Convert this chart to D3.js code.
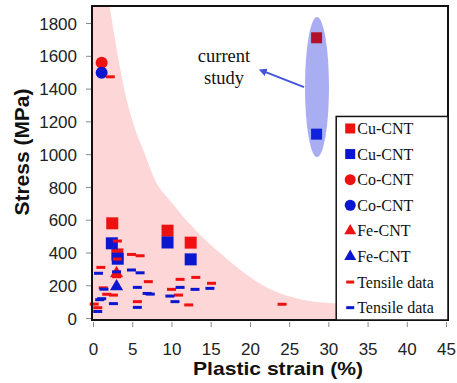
<!DOCTYPE html>
<html>
<head>
<meta charset="utf-8">
<script src="https://cdn.jsdelivr.net/npm/d3@7"></script>
<style>
body { margin:0; background:#fff; }
.tick text { font-family:"Liberation Sans", Arial, sans-serif; font-size:17px; fill:#222; }
.tick line { stroke:#888; }
.legend text { font-family:"Liberation Serif", "Times New Roman", serif; font-size:16px; fill:#111; }
</style>
</head>
<body>
<div id="chart"></div>
<script>
// values: [strain %, stress MPa]
var cuRed = [[2.45,578],[3.1,388],[9.5,533],[12.45,460]];
var cuBlue = [[2.4,456],[3.15,362],[9.5,461],[12.45,358]];
var studyRed = [[28.5,1710]];
var studyBlue = [[28.5,1122]];
var coRed = [[1.1,1558]];
var coBlue = [[1.1,1497]];
var feRed = [[3.0,272]];
var feBlue = [[3.0,192]];
var tensileRed = [[2.2,1472],[0.15,85],[0.6,63],[1.0,309],[1.3,184],[1.75,145],[2.6,140],[3.1,470],[3.1,360],
    [3.0,252],[4.9,388],[6.0,380],[7.05,222],[5.65,100],[10.0,175],[11.1,236],[10.9,140],[12.2,80],
    [13.1,248],[15.1,212],[24.1,84]];
var tensileBlue = [[0.6,40],[0.85,112],[0.7,273],[1.4,176],[1.1,118],[2.6,88],[3.0,282],[4.9,293],[6.0,276],
    [5.65,187],[6.9,150],[5.65,65],[7.3,146],[11.1,187],[9.8,134],[10.45,100],[13.0,175],[14.9,181]];

// boundary of the shaded band
var envStrain = [2.1, 4.3, 5.4, 6.4, 7.9, 10.1, 13.4, 16.2, 18.8, 22.6, 26.4, 30.2, 33];
var envStress = [1904, 1330, 1147, 1025, 842, 700, 519, 397, 293, 175, 115, 92, 85];

var xTicks = [0,5,10,15,20,25,30,35,40,45];
var yTicks = [0,200,400,600,800,1000,1200,1400,1600,1800];

var legendItems = [
    {name:"Cu-CNT", shape:"square", color:"#ee1111"},
    {name:"Cu-CNT", shape:"square", color:"#0b16d0"},
    {name:"Co-CNT", shape:"circle", color:"#ee1111"},
    {name:"Co-CNT", shape:"circle", color:"#0b16d0"},
    {name:"Fe-CNT", shape:"triangle", color:"#ee1111"},
    {name:"Fe-CNT", shape:"triangle", color:"#0b16d0"},
    {name:"Tensile data", shape:"dash", color:"#ee1111"},
    {name:"Tensile data", shape:"dash", color:"#0b16d0"}
];

var red = "#ee1111", blue = "#0b16d0";

var margin = {top:6, right:9, bottom:63, left:92};
var w = 457 - margin.left - margin.right;
var h = 383 - margin.top - margin.bottom;

var svg = d3.select("#chart").append("svg")
    .attr("width", 457)
    .attr("height", 383)
    .append("g")
    .attr("transform", "translate(" + margin.left + "," + margin.top + ")");

var x = d3.scaleLinear().domain([-0.13, 45.25]).range([0, w]);
var y = d3.scaleLinear().domain([-12, 1904]).range([h, 0]);

svg.append("defs").append("clipPath").attr("id", "clip")
    .append("rect").attr("width", w).attr("height", h);

// pink band
var edge = d3.line().x(function(d){ return x(d[0]); }).y(function(d){ return y(d[1]); })
    .curve(d3.curveMonotoneX);
var curvePts = envStrain.map(function(s, i){ return [s, envStress[i]]; });
var dBand = "M" + x(x.domain()[0]) + "," + y(y.domain()[1]) +
    "L" + edge(curvePts).slice(1) +
    "L" + x(envStrain[envStrain.length-1]) + "," + y(y.domain()[0]) +
    "L" + x(x.domain()[0]) + "," + y(y.domain()[0]) + "Z";
svg.append("path")
    .attr("clip-path", "url(#clip)")
    .attr("d", dBand)
    .style("fill", "#fdd7d7");

// ellipse round current study
svg.append("ellipse")
    .attr("cx", x(28.55))
    .attr("cy", y(1409))
    .attr("rx", 12)
    .attr("ry", 70)
    .style("fill", "#a9aef2");

// arrow
svg.append("defs").append("marker")
    .attr("id", "head")
    .attr("viewBox", "0 0 10 10")
    .attr("refX", 5).attr("refY", 5)
    .attr("markerWidth", 4).attr("markerHeight", 4)
    .attr("orient", "auto")
    .append("path").attr("d", "M0,0L10,5L0,10Z").style("fill", "#4455dd");

svg.append("line")
    .attr("x1", x(26.9)).attr("y1", y(1409))
    .attr("x2", x(21.6)).attr("y2", y(1508))
    .style("stroke", "#4455dd")
    .style("stroke-width", 2)
    .attr("marker-end", "url(#head)");

var label = svg.append("text")
    .attr("x", x(16.7))
    .attr("y", y(1560))
    .style("font-family", "'Liberation Serif', 'Times New Roman', serif")
    .style("font-size", "18.5px")
    .style("text-anchor", "middle")
    .style("fill", "#111");
label.append("tspan").attr("x", x(16.7)).text("current");
label.append("tspan").attr("x", x(16.7)).attr("dy", 22).text("study");

// markers
function drawSquares(data, color, size) {
    svg.selectAll(null).data(data).enter().append("rect")
        .attr("x", function(d){ return x(d[0]) - size/2; })
        .attr("y", function(d){ return y(d[1]) - size/2; })
        .attr("width", size).attr("height", size)
        .style("fill", color);
}
function drawCircles(data, color) {
    svg.selectAll(null).data(data).enter().append("circle")
        .attr("cx", function(d){ return x(d[0]); })
        .attr("cy", function(d){ return y(d[1]); })
        .attr("r", 6)
        .style("fill", color);
}
function drawTriangles(data, color) {
    svg.selectAll(null).data(data).enter().append("path")
        .attr("transform", function(d){ return "translate(" + x(d[0]) + "," + y(d[1]) + ")"; })
        .attr("d", d3.symbol().type(d3.symbolTriangle).size(75))
        .style("fill", color);
}
function drawDashes(data, color) {
    svg.selectAll(null).data(data).enter().append("rect")
        .attr("x", function(d){ return x(d[0]) - 4.5; })
        .attr("y", function(d){ return y(d[1]) - 1.5; })
        .attr("width", 9).attr("height", 3)
        .style("fill", color);
}

drawCircles(coRed, red);
drawCircles(coBlue, blue);
drawSquares(cuRed, red, 12);
drawSquares(cuBlue, blue, 12);
drawTriangles(feRed, red);
drawTriangles(feBlue, blue);
drawDashes(tensileRed, red);
drawDashes(tensileBlue, blue);
drawSquares(studyRed, "#b3102a", 11);
drawSquares(studyBlue, "#1022dd", 11);

// axes
var xAxis = d3.axisBottom(x).tickValues(xTicks).tickSizeInner(5).tickSizeOuter(0).tickPadding(16);
var yAxis = d3.axisLeft(y).tickValues(yTicks).tickFormat(d3.format("d"))
    .tickSizeInner(5).tickSizeOuter(0).tickPadding(9);

var gx = svg.append("g")
    .attr("transform", "translate(0," + (h + 2) + ")")
    .call(xAxis);
gx.select(".domain").remove();

var gy = svg.append("g")
    .attr("transform", "translate(-1,0)")
    .call(yAxis);
gy.select(".domain").remove();
gy.selectAll(".tick text").attr("dy", "0.36em");

// frame
svg.append("rect")
    .attr("width", w).attr("height", h)
    .style("fill", "none")
    .style("stroke", "#111")
    .style("stroke-width", 2);

// legend
var lg = svg.append("g").attr("class", "legend")
    .attr("transform", "translate(" + (x(31)) + "," + y(1230) + ")");
var lw = w - x(31), lh = h - y(1230);
lg.append("rect")
    .attr("width", lw).attr("height", lh)
    .style("fill", "#fff")
    .style("stroke", "#111")
    .style("stroke-width", 1.5);

var item = lg.selectAll(".item").data(legendItems).enter().append("g")
    .attr("class", "item")
    .attr("transform", function(d, i){ return "translate(14," + (12 + i * 25.6) + ")"; });

item.each(function(d){
    var g = d3.select(this);
    if (d.shape == "square") {
        g.append("rect").attr("x", -5).attr("y", -5).attr("width", 10).attr("height", 10).style("fill", d.color);
    } else if (d.shape == "circle") {
        g.append("circle").attr("r", 5.5).style("fill", d.color);
    } else if (d.shape == "triangle") {
        g.append("path").attr("d", d3.symbol().type(d3.symbolTriangle).size(62)).style("fill", d.color);
    } else {
        g.append("rect").attr("x", -4).attr("y", -1.5).attr("width", 8).attr("height", 3).style("fill", d.color);
    }
});

item.append("text")
    .attr("x", 7)
    .attr("dy", "0.35em")
    .text(function(d){ return d.name; });

// axis titles
svg.append("text")
    .attr("x", w / 2 + 8)
    .attr("y", h + 55)
    .attr("textLength", 170)
    .attr("lengthAdjust", "spacingAndGlyphs")
    .style("text-anchor", "middle")
    .style("font-family", "'Liberation Sans', Arial, sans-serif")
    .style("font-weight", "bold")
    .style("font-size", "19px")
    .style("fill", "#111")
    .text("Plastic strain (%)");

svg.append("text")
    .attr("transform", "rotate(-90)")
    .attr("x", -(152 - margin.top))
    .attr("y", 29 - margin.left)
    .attr("textLength", 127)
    .attr("lengthAdjust", "spacingAndGlyphs")
    .style("text-anchor", "middle")
    .style("font-family", "'Liberation Sans', Arial, sans-serif")
    .style("font-weight", "bold")
    .style("font-size", "20px")
    .style("fill", "#111")
    .text("Stress (MPa)");
</script>
</body>
</html>
